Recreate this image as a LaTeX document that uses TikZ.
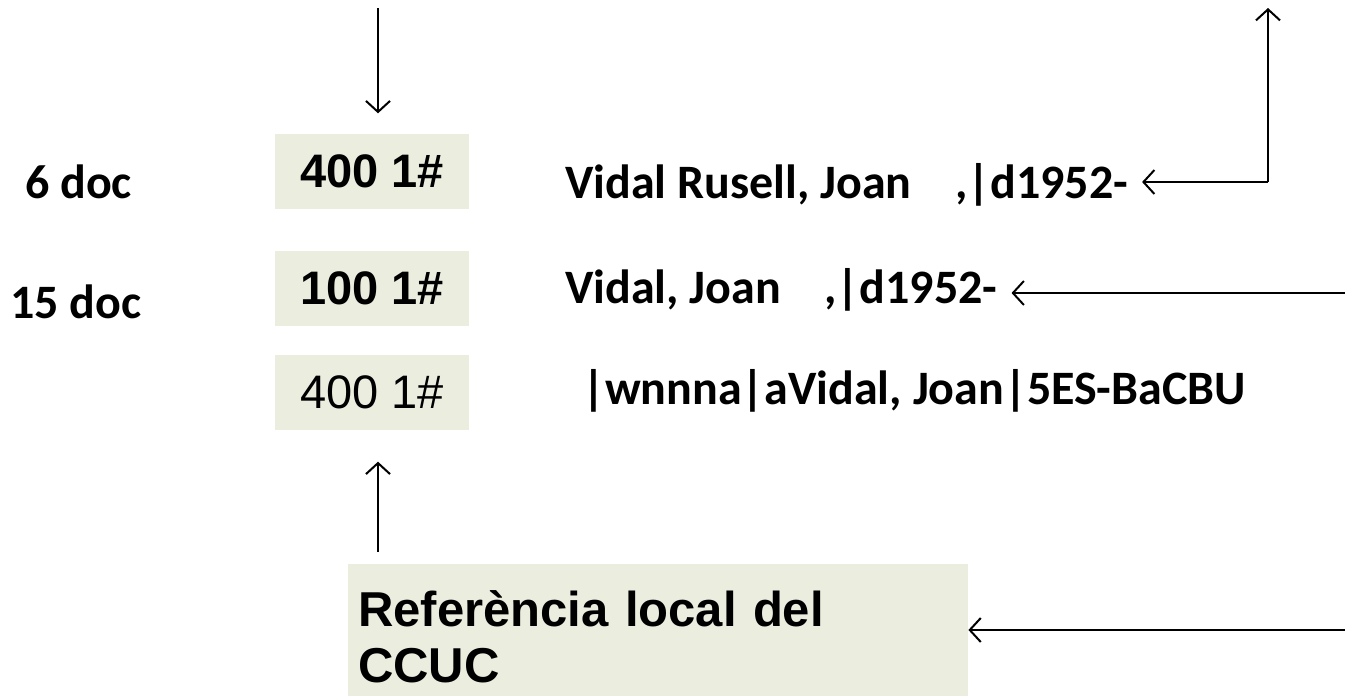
\documentclass[tikz,border=0pt]{standalone}
\usepackage{fontspec}
\setmainfont{Carlito}
\setsansfont{Liberation Sans}
\usetikzlibrary{arrows.meta}
\definecolor{boxgreen}{HTML}{EBEEDF}
\tikzset{
    tagbox/.style={
        rectangle,
        fill=boxgreen, % 浅绿色底
        minimum width=194pt,
        minimum height=75pt,
        inner sep=0,
        font=\sffamily\bfseries\fontsize{47}{52}\selectfont
    },
    plaintag/.style={
        tagbox,
        font=\sffamily\mdseries\fontsize{47}{52}\selectfont
    },
    valnode/.style={
        anchor=base west,
        inner sep=0,
        font=\bfseries\fontsize{48}{56}\selectfont
    },
    refbox/.style={
        rectangle,
        fill=boxgreen,
        anchor=north west,
        minimum width=617pt,
        minimum height=146pt,
        text width=600pt,
        inner xsep=10pt,
        align=left,
        font=\sffamily\bfseries\fontsize{49}{56}\selectfont
    },
    arr/.style={
        line width=2pt,
        -{Straight Barb[length=11pt,width=24pt]}
    }
}

\begin{document}
\begin{tikzpicture}[x=1pt,y=-1pt]
    \useasboundingbox (0,0) rectangle (1345,696);
    % 字段
    \node[tagbox] (tag1) at (372,171) {400 1\#};
    \node[tagbox] (tag2) at (372,288) {100 1\#};
    \node[plaintag] (tag3) at (372,392) {400 1\#};
    % 文档数
    \node[valnode] (cnt1) at (25,198) {6 doc};
    \node[valnode] (cnt2) at (10,318) {15 doc};
    % 内容
    \node[valnode] (val1) at (565,198) {Vidal Rusell, Joan\ \ \ \ ,|d1952-};
    \node[valnode] (val2) at (565,303) {Vidal, Joan\ \ \ \ ,|d1952-};
    \node[valnode] (val3) at (582,404) {|wnnna|aVidal, Joan|5ES-BaCBU};
    % 本地参照
    \node[refbox] (ref) at (348,564) {Referència local del\\CCUC};
    % 箭头
    \coordinate (intop) at (378,8);
    \coordinate (up1) at (1268,8);
    \coordinate (turn1) at (1268,182);
    \coordinate (in2) at (1345,293);
    \coordinate (in3) at (1345,630);
    \draw[arr, shorten >=20pt] (intop) -- (intop |- tag1.north);
    \draw[arr] (turn1) -- (up1);
    \draw[arr, shorten >=14pt] (turn1) -- (val1.east |- turn1);
    \draw[arr, shorten >=14pt] (in2) -- (val2.east |- in2);
    \draw[arr, shorten <=12pt, shorten >=32pt] (ref.north -| intop) -- (tag3.south -| intop);
    \draw[arr] (in3) -- (in3 -| ref.east);
\end{tikzpicture}
\end{document}
